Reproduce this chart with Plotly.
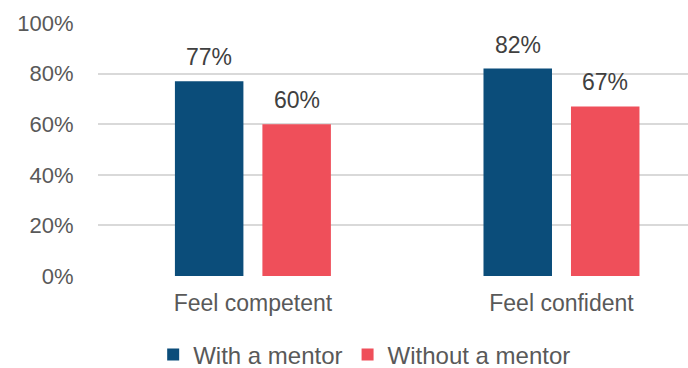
import plotly.graph_objects as go

categories = ["Feel competent", "Feel confident"]
with_mentor = [0.77, 0.82]
without_mentor = [0.60, 0.67]
series_names = ["With a mentor", "Without a mentor"]
colors = ["#0B4D7A", "#EF4F5A"]
y_ticks = [0, 0.2, 0.4, 0.6, 0.8, 1.0]
y_tick_labels = ["0%", "20%", "40%", "60%", "80%", "100%"]

font_family = "Liberation Sans, Arial, sans-serif"
text_color = "#595959"

fig = go.Figure()
for name, vals, col in zip(series_names, [with_mentor, without_mentor], colors):
    fig.add_trace(go.Bar(
        x=categories, y=vals, name=name, marker_color=col,
        marker_line_width=0,
    ))

# data labels
bar_offsets = [-0.142, 0.142]
annotations = []
for off, vals in zip(bar_offsets, [with_mentor, without_mentor]):
    for i, v in enumerate(vals):
        annotations.append(dict(
            x=i + off, y=v, xref="x", yref="y",
            text=f"{round(v*100)}%", showarrow=False,
            yshift=24, font=dict(size=23, color="#404040", family=font_family),
        ))

fig.update_layout(
    width=688, height=368,
    margin=dict(l=98, r=0, t=23, b=92, autoexpand=False),
    paper_bgcolor="white", plot_bgcolor="white",
    barmode="group", bargap=0.433, bargroupgap=0.217,
    font=dict(family=font_family, color=text_color, size=22),
    showlegend=True,
    legend=dict(
        orientation="h", x=0.452, xanchor="center", y=-0.312, yanchor="middle",
        font=dict(size=24, color=text_color, family=font_family),
        traceorder="normal",
    ),
    annotations=annotations,
    xaxis=dict(
        type="category", range=[-0.502, 1.41], showgrid=False, zeroline=False,
        showline=False, ticks="outside", ticklen=6, tickcolor="rgba(0,0,0,0)",
        tickfont=dict(size=23, color=text_color, family=font_family),
    ),
    yaxis=dict(
        range=[0, 1.0], tickvals=y_ticks, ticktext=y_tick_labels,
        showgrid=True, gridcolor="#D9D9D9", gridwidth=1.5, zeroline=False,
        showline=False, ticks="outside", ticklen=19, tickcolor="rgba(0,0,0,0)",
        tickfont=dict(size=22, color=text_color, family=font_family),
    ),
)

fig.write_html("out.html")
